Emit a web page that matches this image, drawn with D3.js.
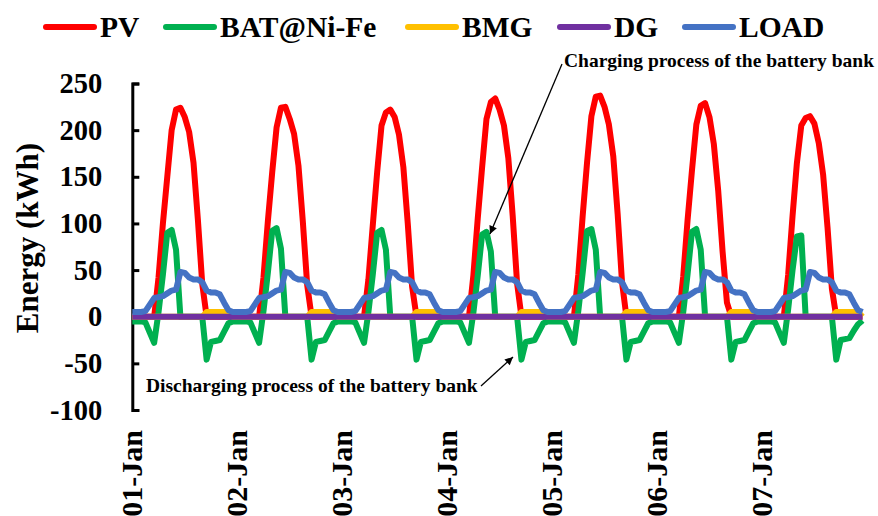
<html>
<head>
<meta charset="utf-8">
<title>energy</title>
<script src="https://cdnjs.cloudflare.com/ajax/libs/d3/7.8.5/d3.min.js"></script>
<style>
  body { margin: 0; background: #fff; }
  svg { display: block; font-family: "Liberation Serif", "Times New Roman", serif; font-weight: bold; }
</style>
</head>
<body>
<svg width="878" height="516"></svg>
<script>
// hourly values, one row per day (24 h)
const dayLabels = ['01-Jan', '02-Jan', '03-Jan', '04-Jan', '05-Jan', '06-Jan', '07-Jan'];
const yTicks = [-100, -50, 0, 50, 100, 150, 200, 250];

const pv = [
  [0,0,0,0,0,0,42,100,150,200,222,224,214,198,165,104,35,0,0,0,0,0,0,0],
  [0,0,0,0,0,0,42,102,155,203,224,225,212,196,162,102,34,0,0,0,0,0,0,0],
  [0,0,0,0,0,0,40,98,155,205,219,222,214,195,160,100,32,0,0,0,0,0,0,0],
  [0,0,0,0,0,0,44,105,160,212,230,234,222,205,170,108,36,0,0,0,0,0,0,0],
  [0,0,0,0,0,0,45,108,165,215,236,237,225,206,172,110,37,0,0,0,0,0,0,0],
  [0,0,0,0,0,0,43,104,157,206,226,229,214,185,135,70,15,0,0,0,0,0,0,0],
  [0,0,0,0,0,0,45,108,165,205,213,215,207,186,152,96,30,0,0,0,0,0,0,0]
];
const bat = [
  [-5,-5,-5,-6,-17,-28,5,45,90,93,72,0,0,0,0,0,0,-46,-27,-26,-25,-16,-7,-5],
  [-5,-5,-5,-6,-17,-28,6,47,92,95,73,0,0,0,0,0,0,-46,-27,-26,-25,-16,-7,-5],
  [-5,-5,-5,-6,-17,-28,5,45,90,93,72,0,0,0,0,0,0,-46,-27,-26,-25,-16,-7,-5],
  [-5,-5,-5,-6,-17,-28,4,44,88,91,70,0,0,0,0,0,0,-46,-27,-26,-25,-16,-7,-5],
  [-5,-5,-5,-6,-17,-28,6,47,92,94,72,0,0,0,0,0,0,-46,-27,-26,-25,-16,-7,-5],
  [-5,-5,-5,-6,-17,-28,5,46,91,94,72,0,0,0,0,0,0,-46,-27,-26,-25,-16,-7,-5],
  [-5,-5,-5,-6,-17,-28,8,50,86,87,0,0,0,0,0,0,0,-46,-25,-24,-23,-15,-8,-4]
];
const bmg = [
  [0,0,0,0,0,0,0,0,0,0,0,0,0,0,0,0,0,5,5,5,5,5,5,0],
  [0,0,0,0,0,0,0,0,0,0,0,0,0,0,0,0,0,5,5,5,5,5,5,0],
  [0,0,0,0,0,0,0,0,0,0,0,0,0,0,0,0,0,5,5,5,5,5,5,0],
  [0,0,0,0,0,0,0,0,0,0,0,0,0,0,0,0,0,5,5,5,5,5,5,0],
  [0,0,0,0,0,0,0,0,0,0,0,0,0,0,0,0,0,5,5,5,5,5,5,0],
  [0,0,0,0,0,0,0,0,0,0,0,0,0,0,0,0,0,5,5,5,5,5,5,0],
  [0,0,0,0,0,0,0,0,0,0,0,0,0,0,0,0,0,5,5,5,5,5,5,0]
];
const dg = [
  [0,0,0,0,0,0,0,0,0,0,0,0,0,0,0,0,0,0,0,0,0,0,0,0],
  [0,0,0,0,0,0,0,0,0,0,0,0,0,0,0,0,0,0,0,0,0,0,0,0],
  [0,0,0,0,0,0,0,0,0,0,0,0,0,0,0,0,0,0,0,0,0,0,0,0],
  [0,0,0,0,0,0,0,0,0,0,0,0,0,0,0,0,0,0,0,0,0,0,0,0],
  [0,0,0,0,0,0,0,0,0,0,0,0,0,0,0,0,0,0,0,0,0,0,0,0],
  [0,0,0,0,0,0,0,0,0,0,0,0,0,0,0,0,0,0,0,0,0,0,0,0],
  [0,0,0,0,0,0,0,0,0,0,0,0,0,0,0,0,0,0,0,0,0,0,0,0]
];
const load = [
  [5,5,5,6,13,20,21,22,25,28,29,48,47,42,40,40,37,28,26,26,24,15,7,5],
  [5,5,5,6,13,20,21,22,25,28,29,48,47,42,40,40,37,28,26,26,24,15,7,5],
  [5,5,5,6,13,20,21,22,25,28,29,48,47,42,40,40,37,28,26,26,24,15,7,5],
  [5,5,5,6,13,20,21,22,25,28,29,48,47,42,40,40,37,28,26,26,24,15,7,5],
  [5,5,5,6,13,20,21,22,25,28,29,48,47,42,40,40,37,28,26,26,24,15,7,5],
  [5,5,5,6,13,20,21,22,25,28,29,48,47,42,40,40,37,28,26,26,24,15,7,5],
  [5,5,5,6,13,20,21,22,25,28,29,48,47,42,40,40,37,28,26,26,24,15,7,5]
];

const series = [
  { name: 'PV', color: '#ff0000', values: pv.flat() },
  { name: 'BAT@Ni-Fe', color: '#00b050', values: bat.flat() },
  { name: 'BMG', color: '#ffc000', values: bmg.flat() },
  { name: 'DG', color: '#7030a0', values: dg.flat() },
  { name: 'LOAD', color: '#4472c4', values: load.flat() }
];

const svg = d3.select('svg');
const n = series[0].values.length;

const x = d3.scaleLinear().domain([0, n - 1]).range([132.3, 862.5]);
const y = d3.scaleLinear().domain([-100, 250]).range([410, 83.5]);

// y axis line + inward ticks
svg.append('g')
  .attr('transform', 'translate(132.3,0)')
  .call(d3.axisRight(y).tickValues(yTicks).tickSize(7).tickSizeOuter(7).tickFormat(''))
  .call(g => g.selectAll('path,line').attr('stroke', '#000').attr('stroke-width', 3));

// y tick labels (plain hyphen for minus)
svg.append('g')
  .attr('transform', 'translate(132.3,0)')
  .call(d3.axisLeft(y).tickValues(yTicks).tickSize(0).tickPadding(30).tickFormat(d => String(d)))
  .call(g => g.select('.domain').remove())
  .call(g => g.selectAll('text')
    .attr('font-family', '"Liberation Serif", serif')
    .attr('font-weight', 'bold')
    .attr('font-size', 28.5)
    .attr('fill', '#000'));

// day labels
svg.append('g')
  .attr('transform', 'translate(-1,430)')
  .call(d3.axisBottom(x).tickValues(dayLabels.map((d, i) => i * 24)).tickSize(0).tickFormat((d, i) => dayLabels[i]))
  .call(g => g.select('.domain').remove())
  .call(g => g.selectAll('text')
    .attr('transform', 'rotate(-90)')
    .attr('x', 0).attr('y', 0).attr('dy', '0.35em')
    .attr('text-anchor', 'end')
    .attr('font-family', '"Liberation Serif", serif')
    .attr('font-weight', 'bold')
    .attr('font-size', 30)
    .attr('fill', '#000'));

svg.append('text')
  .attr('transform', 'translate(38,238) rotate(-90)')
  .attr('text-anchor', 'middle')
  .attr('font-size', 31)
  .text('Energy (kWh)');

const line = d3.line().x((d, i) => x(i)).y(d => y(d));

svg.selectAll('.series')
  .data(series)
  .enter()
  .append('path')
  .attr('class', 'series')
  .attr('d', d => line(d.values))
  .attr('fill', 'none')
  .attr('stroke', d => d.color)
  .attr('stroke-width', 6)
  .attr('stroke-linejoin', 'round');

// legend
const legX = [46, 166, 408, 560, 685];
const leg = svg.selectAll('.leg')
  .data(series)
  .enter()
  .append('g')
  .attr('class', 'leg')
  .attr('transform', (d, i) => `translate(${legX[i]},27)`);
leg.append('line')
  .attr('x1', 0).attr('x2', 48)
  .attr('stroke', d => d.color)
  .attr('stroke-width', 6)
  .attr('stroke-linecap', 'round');
leg.append('text')
  .attr('x', 54).attr('y', 10)
  .attr('font-size', 29.5)
  .text(d => d.name);

// annotations
svg.append('defs').append('marker')
  .attr('id', 'arr')
  .attr('viewBox', '0 0 10 10')
  .attr('refX', 10).attr('refY', 5)
  .attr('markerWidth', 12).attr('markerHeight', 8)
  .attr('markerUnits', 'userSpaceOnUse')
  .attr('orient', 'auto')
  .append('path').attr('d', 'M0,0L10,5L0,10z').attr('fill', '#000');

svg.append('text')
  .attr('x', 564).attr('y', 67)
  .attr('font-size', 19.5)
  .text('Charging process of the battery bank');
svg.append('line')
  .attr('x1', 562).attr('y1', 64).attr('x2', 490).attr('y2', 234)
  .attr('stroke', '#000').attr('stroke-width', 1.3)
  .attr('marker-end', 'url(#arr)');

svg.append('text')
  .attr('x', 146).attr('y', 392)
  .attr('font-size', 19.5)
  .text('Discharging process of the battery bank');
svg.append('line')
  .attr('x1', 481).attr('y1', 386).attr('x2', 513).attr('y2', 357)
  .attr('stroke', '#000').attr('stroke-width', 1.3)
  .attr('marker-end', 'url(#arr)');
</script>
</body>
</html>
